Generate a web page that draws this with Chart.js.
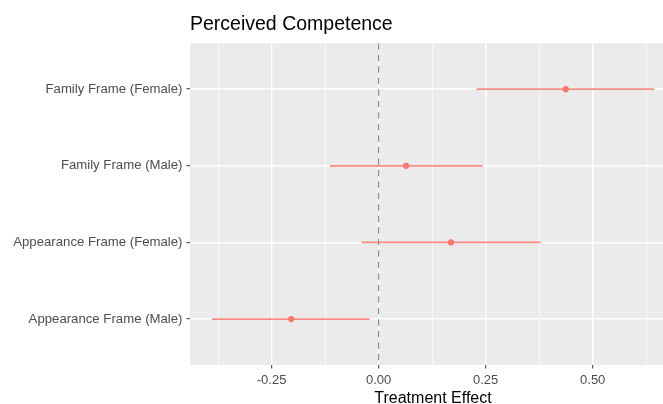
<!DOCTYPE html>
<html>
<head>
<meta charset="utf-8">
<script src="https://cdn.jsdelivr.net/npm/chart.js@4/dist/chart.umd.min.js"></script>
<style>
  html, body { margin: 0; padding: 0; background: #ffffff; overflow: hidden; }
  #wrap { position: relative; width: 680px; height: 404px; }
</style>
</head>
<body>
<div id="wrap"><canvas id="chart"></canvas></div>
<script>
// categories listed bottom to top
const categories = [
  "Appearance Frame (Male)",
  "Appearance Frame (Female)",
  "Family Frame (Male)",
  "Family Frame (Female)",
];
const estimates = [-0.204, 0.169, 0.064, 0.437];
const lowerCI = [-0.389, -0.040, -0.114, 0.229];
const upperCI = [-0.021, 0.379, 0.243, 0.643];

const xMajorTicks = [-0.25, 0, 0.25, 0.5];
const xMinorTicks = [-0.375, -0.125, 0.125, 0.375, 0.625];

const POINT_COLOR = "#F8766D";
const FONT = "'Liberation Sans', Arial, Helvetica, sans-serif";

// ggplot style 5% expansion of the data range
const dataMin = Math.min(...lowerCI);
const dataMax = Math.max(...upperCI);
const pad = (dataMax - dataMin) * 0.05;

const isMajor = (value) => xMajorTicks.some((t) => Math.abs(t - value) < 1e-9);

const panelBackground = {
  id: "panelBackground",
  beforeDraw(chart) {
    const { ctx, chartArea } = chart;
    ctx.save();
    ctx.fillStyle = "#EBEBEB";
    ctx.fillRect(chartArea.left, chartArea.top, chartArea.right - chartArea.left, chartArea.bottom - chartArea.top);
    ctx.restore();
  },
};

const errorBars = categories.map((_, i) => ({
  type: "line",
  data: [
    { x: lowerCI[i], y: i + 1 },
    { x: upperCI[i], y: i + 1 },
  ],
  borderColor: "#F88C85",
  borderWidth: 1.8,
  pointRadius: 0,
  order: 3,
}));

const zeroLine = {
  type: "line",
  data: [
    { x: 0, y: 4.6 },
    { x: 0, y: 0.4 },
  ],
  borderColor: "#8E8E8E",
  borderWidth: 1.2,
  borderDash: [6.5, 5],
  pointRadius: 0,
  order: 2,
};

const points = {
  type: "scatter",
  data: estimates.map((v, i) => ({ x: v, y: i + 1 })),
  backgroundColor: POINT_COLOR,
  borderColor: POINT_COLOR,
  pointRadius: 3.1,
  borderWidth: 0,
  order: 1,
};

new Chart(document.getElementById("chart"), {
  type: "scatter",
  data: { datasets: [...errorBars, zeroLine, points] },
  options: {
    responsive: true,
    maintainAspectRatio: false,
    animation: false,
    layout: { padding: { left: 0, right: 4, top: 0, bottom: 0 } },
    plugins: {
      legend: { display: false },
      tooltip: { enabled: false },
      title: {
        display: true,
        text: "Perceived Competence",
        align: "start",
        fullSize: false,
        color: "#000000",
        font: { family: FONT, size: 19.5, weight: "normal", lineHeight: 1.2 },
        padding: { top: 13, bottom: 6.8 },
      },
    },
    scales: {
      x: {
        type: "linear",
        min: dataMin - pad,
        max: dataMax + pad,
        afterBuildTicks: (scale) => {
          scale.ticks = [...xMinorTicks, ...xMajorTicks].sort((a, b) => a - b).map((value) => ({ value }));
        },
        afterFit: (scale) => { scale.height = 39; },
        border: { display: false },
        grid: {
          color: "#FFFFFF",
          lineWidth: (ctx) => (ctx.tick && isMajor(ctx.tick.value) ? 1.4 : 0.7),
          tickColor: (ctx) => (ctx.tick && isMajor(ctx.tick.value) ? "#333333" : "rgba(0,0,0,0)"),
          tickLength: 3.5,
          tickWidth: 1,
        },
        ticks: {
          autoSkip: false,
          maxRotation: 0,
          padding: 4,
          color: "#4D4D4D",
          font: { family: FONT, size: 13 },
          callback: (value) => (isMajor(value) ? value.toFixed(2) : ""),
        },
        title: {
          display: true,
          text: "Treatment Effect",
          color: "#000000",
          font: { family: FONT, size: 16, lineHeight: 1.0 },
          padding: { top: 0, bottom: -3 },
        },
      },
      y: {
        type: "linear",
        min: 0.4,
        max: 4.6,
        afterBuildTicks: (scale) => {
          scale.ticks = categories.map((_, i) => ({ value: i + 1 }));
        },
        afterFit: (scale) => { scale.width = 190; },
        border: { display: false },
        grid: {
          color: "#FFFFFF",
          lineWidth: 1.4,
          tickColor: "#333333",
          tickLength: 3.5,
          tickWidth: 1,
        },
        ticks: {
          autoSkip: false,
          padding: 4,
          color: "#4D4D4D",
          font: { family: FONT, size: 13.2 },
          callback: (value) => categories[value - 1] || "",
        },
      },
    },
  },
  plugins: [panelBackground],
});
</script>
</body>
</html>
